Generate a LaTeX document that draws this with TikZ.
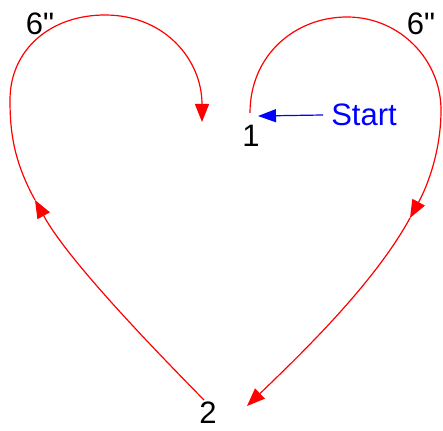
\documentclass[tikz,border=0pt]{standalone}
\usepackage{fontspec}
\setmainfont{Liberation Sans}[Ligatures=TeXOff]
\usetikzlibrary{arrows.meta}
\begin{document}
\begin{tikzpicture}[x=1pt,y=-1pt,
  lobe/.style={draw=red,line width=1.2pt},
  tipred/.style={-{Triangle[length=18pt,width=14pt]}},
  lbl/.style={inner sep=0pt,font=\fontsize{31}{37}\selectfont}]
\useasboundingbox (0,0) rectangle (443,430);
% labels
\node[lbl] (six1) at (40,24) {6"};
\node[lbl] (six2) at (421,24) {6"};
\node[lbl] (one) at (251,136) {1};
\node[lbl] (two) at (208,413) {2};
\node[lbl,text=blue,inner xsep=8pt] (start) at (364,115) {Start};
% coordinates
\coordinate (r0) at (250,113);
\coordinate (rm) at (410,218);
\coordinate (r1) at (247,406);
\coordinate (l0) at (204,400);
\coordinate (lm) at (35,200);
\coordinate (l1) at (202,122);
\coordinate (bt) at (258,116);
% right lobe
\draw[lobe,tipred] (r0) .. controls (250,55) and (295,17) .. (347,17)
  .. controls (400,17) and (441,60) .. (441,110)
  .. controls (441,150) and (428,185) .. (rm);
\draw[lobe,tipred] (rm) .. controls (374,284) and (300,355) .. (r1);
% left lobe
\draw[lobe,tipred] (l0) .. controls (150,345) and (68,260) .. (lm);
\draw[lobe,tipred] (lm) .. controls (13,160) and (10,130) .. (10,100)
  .. controls (10,50) and (50,15) .. (105,15)
  .. controls (165,15) and (202,60) .. (l1);
% start arrow
\draw[blue,line width=1.2pt,-{Triangle[length=18pt,width=13pt]}] (start.west) -- (bt);
\end{tikzpicture}
\end{document}
